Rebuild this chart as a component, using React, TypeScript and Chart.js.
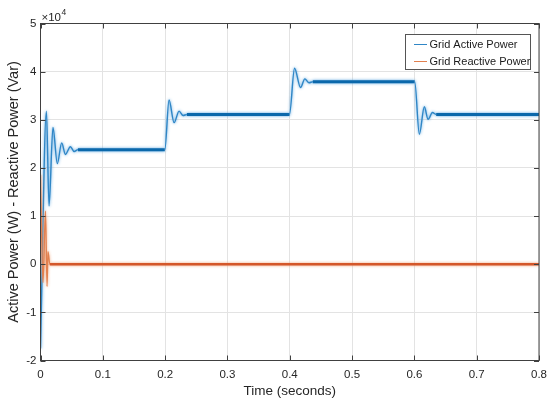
import { useEffect, useRef } from 'react';
import { Chart, registerables } from 'chart.js';

Chart.register(...registerables);

// ---- data (W / Var) ----
const timeActive = [0, 0.0095, 0.0137, 0.02, 0.027, 0.034, 0.04, 0.048, 0.054, 0.06, 0.1995, 0.2063, 0.2144, 0.2224, 0.2288, 0.235, 0.3995, 0.4077, 0.4173, 0.4242, 0.431, 0.437, 0.6005, 0.608, 0.616, 0.622, 0.629, 0.635, 0.8];
const activePower = [-17500, 31800, 12100, 28400, 20900, 25200, 22800, 24400, 23400, 23800, 23800, 34100, 29400, 31800, 30900, 31100, 31100, 40700, 36700, 38500, 37700, 37900, 37900, 27000, 32700, 30100, 31500, 31100, 31100];
const timeReactive = [0, 0.004, 0.008, 0.0105, 0.012, 0.015, 0.8];
const reactivePower = [18600, -3800, 11000, -4600, 2600, 0, 0];

const xTicks = [0, 0.1, 0.2, 0.3, 0.4, 0.5, 0.6, 0.7, 0.8];
const xTickLabels = ['0', '0.1', '0.2', '0.3', '0.4', '0.5', '0.6', '0.7', '0.8'];
const yTicks = [-20000, -10000, 0, 10000, 20000, 30000, 40000, 50000];
const yTickLabels = ['-2', '-1', '0', '1', '2', '3', '4', '5'];
const seriesNames = ['Grid Active Power', 'Grid Reactive Power'];
const xTitle = 'Time (seconds)';
const yTitle = 'Active Power (W) - Reactive Power (Var)';
const exponentBase = '×10';
const exponentPower = '4';

const FONT = '"Liberation Sans", Arial, Helvetica, sans-serif';
const BLUE = '#0b68ab';
const BLUE_THIN = '#2f86c6';
const ORANGE = '#d4572a';
const ORANGE_THIN = '#e2804f';
const AXIS = '#404040';

const axesPlugin = {
  id: 'axesBox',
  beforeDatasetDraw(chart: any, args: any) {
    const ctx = chart.ctx;
    ctx.save();
    ctx.shadowBlur = 3;
    ctx.shadowColor = args.index === 0 ? 'rgba(60,150,220,0.9)' : 'rgba(240,150,100,0.9)';
  },
  afterDatasetDraw(chart: any) {
    chart.ctx.restore();
  },
  afterDatasetsDraw(chart: any) {
    const { ctx, chartArea: a, scales } = chart;
    const x = scales.x;
    const y = scales.y;
    ctx.save();
    ctx.strokeStyle = AXIS;
    ctx.lineWidth = 1;
    ctx.beginPath();
    for (const v of xTicks) {
      const px = Math.round(x.getPixelForValue(v)) + 0.5;
      ctx.moveTo(px, a.bottom);
      ctx.lineTo(px, a.bottom - 5);
      ctx.moveTo(px, a.top);
      ctx.lineTo(px, a.top + 5);
    }
    for (const v of yTicks) {
      const py = Math.round(y.getPixelForValue(v)) + 0.5;
      ctx.moveTo(a.left, py);
      ctx.lineTo(a.left + 5, py);
      ctx.moveTo(a.right, py);
      ctx.lineTo(a.right - 5, py);
    }
    ctx.stroke();
    ctx.strokeRect(a.left, a.top, a.right - a.left, a.bottom - a.top);
    ctx.restore();
  },
  afterDraw(chart: any) {
    const { ctx } = chart;
    ctx.save();
    // exponent label
    ctx.fillStyle = '#262626';
    ctx.textBaseline = 'middle';
    ctx.textAlign = 'left';
    ctx.font = `11.5px ${FONT}`;
    ctx.fillText(exponentBase, 41.5, 17.5);
    const w = ctx.measureText(exponentBase).width;
    ctx.font = `8.5px ${FONT}`;
    ctx.fillText(exponentPower, 41.5 + w + 0.5, 12.5);
    // legend
    const bx = 405.5, by = 34.5, bw = 125, bh = 35;
    ctx.fillStyle = '#ffffff';
    ctx.fillRect(bx, by, bw, bh);
    ctx.strokeStyle = '#555555';
    ctx.lineWidth = 1;
    ctx.strokeRect(bx, by, bw, bh);
    const rows = [44, 61];
    const cols = [BLUE_THIN, ORANGE_THIN];
    ctx.font = `11px ${FONT}`;
    for (let i = 0; i < seriesNames.length; i++) {
      ctx.strokeStyle = cols[i];
      ctx.beginPath();
      ctx.moveTo(414, rows[i] + 0.5);
      ctx.lineTo(427, rows[i] + 0.5);
      ctx.stroke();
      ctx.fillStyle = '#1a1a1a';
      ctx.fillText(seriesNames[i], 429.5, rows[i] + 0.5);
    }
    ctx.restore();
  },
};

export default function App() {
  const ref = useRef<HTMLCanvasElement | null>(null);
  useEffect(() => {
    document.body.style.margin = '0';
    const canvas = ref.current;
    if (!canvas) return;
    const mk = (xs: number[], ys: number[]) => xs.map((t, i) => ({ x: t, y: ys[i] }));
    const chart = new Chart(canvas, {
      type: 'line',
      data: {
        datasets: [
          {
            label: seriesNames[0],
            data: mk(timeActive, activePower),
            borderColor: BLUE,
            borderWidth: 3,
            pointRadius: 0,
            cubicInterpolationMode: 'monotone',
            order: 1,
            segment: {
              borderWidth: (c: any) => (c.p1.parsed.x - c.p0.parsed.x > 0.012 ? 3 : 1.4),
              borderColor: (c: any) => (c.p1.parsed.x - c.p0.parsed.x > 0.012 ? BLUE : BLUE_THIN),
            },
          } as any,
          {
            label: seriesNames[1],
            data: mk(timeReactive, reactivePower),
            borderColor: ORANGE,
            borderWidth: 2.4,
            pointRadius: 0,
            cubicInterpolationMode: 'monotone',
            order: 0,
            segment: {
              borderWidth: (c: any) => (c.p1.parsed.x - c.p0.parsed.x > 0.012 ? 2.4 : 1.3),
              borderColor: (c: any) => (c.p1.parsed.x - c.p0.parsed.x > 0.012 ? ORANGE : ORANGE_THIN),
            },
          } as any,
        ],
      },
      options: {
        animation: false,
        responsive: false,
        devicePixelRatio: 1,
        layout: { padding: { left: 0, right: 0, top: 23.5, bottom: 0 } },
        plugins: { legend: { display: false }, tooltip: { enabled: false } },
        scales: {
          x: {
            type: 'linear',
            min: 0,
            max: 0.8,
            afterBuildTicks: (s: any) => {
              s.ticks = xTicks.map((v) => ({ value: v }));
            },
            afterFit: (s: any) => {
              s.height = 44.5;
              s.paddingRight = 8;
              s.paddingLeft = 0;
            },
            grid: { color: '#e3e3e3', drawTicks: false },
            border: { display: false },
            ticks: {
              autoSkip: false,
              maxRotation: 0,
              padding: 7,
              color: '#262626',
              font: { family: FONT, size: 11.5 },
              callback: (_v: any, i: number) => xTickLabels[i],
            },
            title: {
              display: true,
              text: xTitle,
              color: '#262626',
              font: { family: FONT, size: 13.5 },
              padding: { top: 0, bottom: 6 },
            },
          },
          y: {
            type: 'linear',
            min: -20000,
            max: 50000,
            afterBuildTicks: (s: any) => {
              s.ticks = yTicks.map((v) => ({ value: v }));
            },
            afterFit: (s: any) => {
              s.width = 40.5;
              s.paddingTop = 0;
              s.paddingBottom = 0;
            },
            grid: { color: '#e3e3e3', drawTicks: false },
            border: { display: false },
            ticks: {
              autoSkip: false,
              padding: 4,
              color: '#262626',
              font: { family: FONT, size: 11.5 },
              callback: (_v: any, i: number) => yTickLabels[i],
            },
            title: {
              display: true,
              text: yTitle,
              color: '#262626',
              font: { family: FONT, size: 14.5 },
              padding: { top: 5, bottom: 0 },
            },
          },
        },
      } as any,
      plugins: [axesPlugin],
    });
    return () => chart.destroy();
  }, []);
  return (
    <div style={{ width: 547, height: 405, background: '#fff' }}>
      <canvas ref={ref} width={547} height={405} style={{ display: 'block' }} />
    </div>
  );
}
